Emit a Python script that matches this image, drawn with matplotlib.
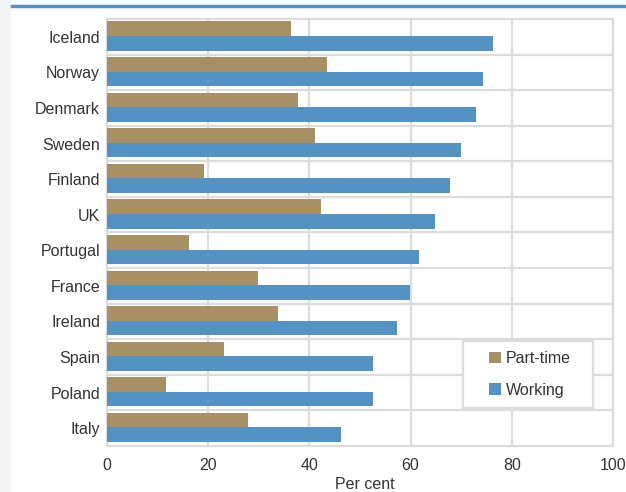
import matplotlib.pyplot as plt
import numpy as np
from matplotlib.patches import Rectangle
from matplotlib.lines import Line2D

plt.rcParams['font.family'] = ['Liberation Sans', 'DejaVu Sans']

countries = ['Iceland', 'Norway', 'Denmark', 'Sweden', 'Finland', 'UK',
             'Portugal', 'France', 'Ireland', 'Spain', 'Poland', 'Italy']
part_time = [36.3, 43.4, 37.8, 41.1, 19.1, 42.3, 16.3, 29.8, 33.8, 23.1, 11.6, 27.8]
working = [76.3, 74.3, 72.9, 70.0, 67.8, 64.8, 61.6, 59.9, 57.4, 52.6, 52.6, 46.3]
xticks = [0, 20, 40, 60, 80, 100]

tan = '#a88f64'
blue = '#5592c4'
grid_c = '#dcdcdc'
text_c = '#333333'
fs = 11.5

fig = plt.figure(figsize=(6.26, 4.92), dpi=100)
# faint strip on the left and the blue rule on top
fig.patches.append(Rectangle((0, 0), 0.016, 1, transform=fig.transFigure,
                             color='#f4f4f4', zorder=0))
fig.lines.append(Line2D([0.019, 1], [0.988, 0.988], transform=fig.transFigure,
                        color=blue, linewidth=2.5))

ax = fig.add_axes([0.171, 0.0935, 0.808, 0.868])
y = np.arange(len(countries))
h = 0.41
ax.barh(y - h / 2 - 0.02, part_time, height=h, color=tan, label='Part-time', zorder=3)
ax.barh(y + h / 2 - 0.02, working, height=h, color=blue, label='Working', zorder=3)

ax.set_ylim(len(countries) - 0.5, -0.5)
ax.set_xlim(0, 100)
ax.set_yticks(y)
ax.set_yticklabels(countries, fontsize=fs, color=text_c)
ax.set_xticks(xticks)
ax.set_xticklabels([str(t) for t in xticks], fontsize=fs, color=text_c)
ax.tick_params(length=0, pad=5)
ax.tick_params(axis='x', pad=9)

# grid: vertical at ticks, horizontal between categories
for t in xticks:
    ax.axvline(t, color=grid_c, linewidth=1.6, zorder=1)
for b in np.arange(0.5, len(countries) - 0.5, 1):
    ax.axhline(b, color=grid_c, linewidth=1.6, zorder=1)
for s in ax.spines.values():
    s.set_color(grid_c)
    s.set_linewidth(1.6)

ax.set_xlabel('Per cent', fontsize=fs, color=text_c)
ax.xaxis.set_label_coords(0.51, -0.072)

# legend box drawn by hand, legend itself without frame
ax.add_patch(Rectangle((0.704, 0.089), 0.257, 0.157, transform=ax.transAxes,
                       facecolor='white', edgecolor=grid_c, linewidth=1.6,
                       zorder=4))
leg = ax.legend(loc='center left', bbox_to_anchor=(0.756, 0.1675), fontsize=fs,
                frameon=False, handlelength=0.75, handleheight=0.75,
                handletextpad=0.3, labelspacing=1.05, borderpad=0,
                borderaxespad=0)
leg.set_zorder(5)
for t in leg.get_texts():
    t.set_color(text_c)

fig.savefig('out.png', dpi=100)
